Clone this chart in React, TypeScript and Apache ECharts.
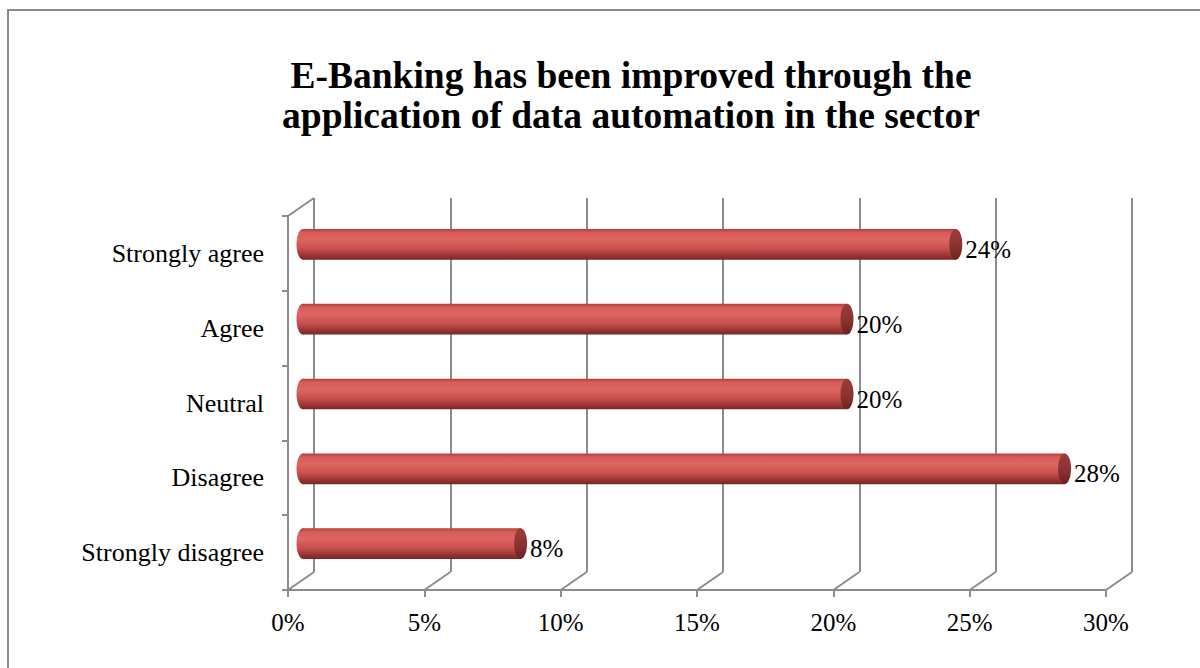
import React, { useEffect, useRef } from "react";
import * as echarts from "echarts";

const title = "E-Banking has been improved through the\napplication of data automation in the sector";
const categories = ["Strongly agree", "Agree", "Neutral", "Disagree", "Strongly disagree"];
const values = [0.24, 0.2, 0.2, 0.28, 0.08];
const tickValues = [0, 0.05, 0.1, 0.15, 0.2, 0.25, 0.3];

const FONT = '"Liberation Serif", "Times New Roman", serif';
const GRID_COLOR = "#8c8c8c";
const DX = 26;
const DY = 18;

export default function App() {
  const ref = useRef<HTMLDivElement>(null);
  useEffect(() => {
    document.body.style.margin = "0";
    const chart = echarts.init(ref.current!, null, { renderer: "svg" });
    const pct = (v: number) => Math.round(v * 100) + "%";
    const option: any = {
      animation: false,
      backgroundColor: "#ffffff",
      title: {
        text: title,
        left: 626,
        top: 50,
        textAlign: "center",
        textStyle: { fontFamily: FONT, fontWeight: "bold", fontSize: 37.5, lineHeight: 40, color: "#000" },
      },
      graphic: [
        {
          type: "rect",
          shape: { x: 8, y: 10, width: 1300, height: 700 },
          style: { fill: "none", stroke: "#8a8a8a", lineWidth: 2 },
          silent: true,
        },
      ],
      grid: [
        { left: 288, right: 94, top: 216, bottom: 78 },
        { left: 288 + DX, right: 94 - DX, top: 216 - DY, bottom: 78 + DY },
        { left: 303, right: 81, top: 207, bottom: 87 },
      ],
      xAxis: [
        {
          gridIndex: 0,
          type: "value",
          min: 0,
          max: 0.3,
          interval: 0.05,
          axisLine: { show: true, lineStyle: { color: GRID_COLOR, width: 2 } },
          axisTick: { show: true, length: 7, lineStyle: { color: GRID_COLOR, width: 2 } },
          axisLabel: { formatter: pct, fontFamily: FONT, fontSize: 25, color: "#000", margin: 20 },
          splitLine: { show: false },
        },
        {
          gridIndex: 1,
          type: "value",
          min: 0,
          max: 0.3,
          interval: 0.05,
          axisLine: { show: false },
          axisTick: { show: false },
          axisLabel: { show: false },
          splitLine: { show: true, lineStyle: { color: GRID_COLOR, width: 2 } },
        },
        {
          gridIndex: 2,
          type: "value",
          min: 0,
          max: 0.3,
          interval: 0.05,
          show: false,
          splitLine: { show: false },
        },
      ],
      yAxis: [
        {
          gridIndex: 0,
          type: "category",
          data: categories,
          inverse: true,
          axisLine: { show: true, lineStyle: { color: GRID_COLOR, width: 2 } },
          axisTick: { show: true, length: 6, lineStyle: { color: GRID_COLOR, width: 2 } },
          axisLabel: { fontFamily: FONT, fontSize: 26, color: "#000", margin: 24, padding: [4, 0, 0, 0] },
        },
        {
          gridIndex: 1,
          type: "category",
          data: categories,
          inverse: true,
          show: false,
        },
        {
          gridIndex: 2,
          type: "category",
          data: categories,
          inverse: true,
          show: false,
        },
      ],
      series: [
        {
          type: "custom",
          xAxisIndex: 0,
          yAxisIndex: 0,
          silent: true,
          data: tickValues.map((v) => [v, 0]),
          renderItem: (params: any, api: any) => {
            const cs = params.coordSys;
            const x = api.coord([api.value(0), 0])[0];
            const bottom = cs.y + cs.height;
            const children: any[] = [
              {
                type: "line",
                shape: { x1: x, y1: bottom, x2: x + DX, y2: bottom - DY },
                style: { stroke: GRID_COLOR, lineWidth: 2 },
              },
            ];
            if (params.dataIndex === 0) {
              children.push({
                type: "line",
                shape: { x1: x, y1: cs.y, x2: x + DX, y2: cs.y - DY },
                style: { stroke: GRID_COLOR, lineWidth: 2 },
              });
            }
            return { type: "group", children };
          },
        },
        {
          type: "custom",
          xAxisIndex: 2,
          yAxisIndex: 2,
          silent: true,
          data: values.map((v, i) => [v, i]),
          renderItem: (params: any, api: any) => {
            const v = api.value(0);
            const ci = api.value(1);
            const s = api.coord([0, ci]);
            const e = api.coord([v, ci]);
            const band = api.size([0, 1])[1];
            const h = band * 0.41;
            const cy = s[1];
            const rx = 6.5;
            const bodyGrad = new echarts.graphic.LinearGradient(0, 0, 0, 1, [
              { offset: 0, color: "#b23e3c" },
              { offset: 0.12, color: "#d65d59" },
              { offset: 0.35, color: "#dd6662" },
              { offset: 0.65, color: "#c64e4b" },
              { offset: 1, color: "#7a2523" },
            ]);
            const capGrad = new echarts.graphic.LinearGradient(0, 0, 0, 1, [
              { offset: 0, color: "#9c3c3a" },
              { offset: 0.5, color: "#8c3432" },
              { offset: 1, color: "#6c2220" },
            ]);
            return {
              type: "group",
              children: [
                {
                  type: "ellipse",
                  shape: { cx: s[0], cy, rx, ry: h / 2 },
                  style: { fill: bodyGrad },
                },
                {
                  type: "rect",
                  shape: { x: s[0], y: cy - h / 2, width: e[0] - s[0], height: h },
                  style: { fill: bodyGrad },
                },
                {
                  type: "ellipse",
                  shape: { cx: e[0], cy, rx, ry: h / 2 },
                  style: { fill: capGrad },
                },
                {
                  type: "text",
                  x: e[0] + rx + 3,
                  y: cy + 5,
                  style: {
                    text: pct(v),
                    fontFamily: FONT,
                    fontSize: 25,
                    fill: "#000",
                    verticalAlign: "middle",
                    align: "left",
                  },
                },
              ],
            };
          },
        },
      ],
    };
    chart.setOption(option);
    return () => chart.dispose();
  }, []);
  return <div ref={ref} style={{ position: "absolute", left: 0, top: 0, width: 1200, height: 668 }} />;
}
